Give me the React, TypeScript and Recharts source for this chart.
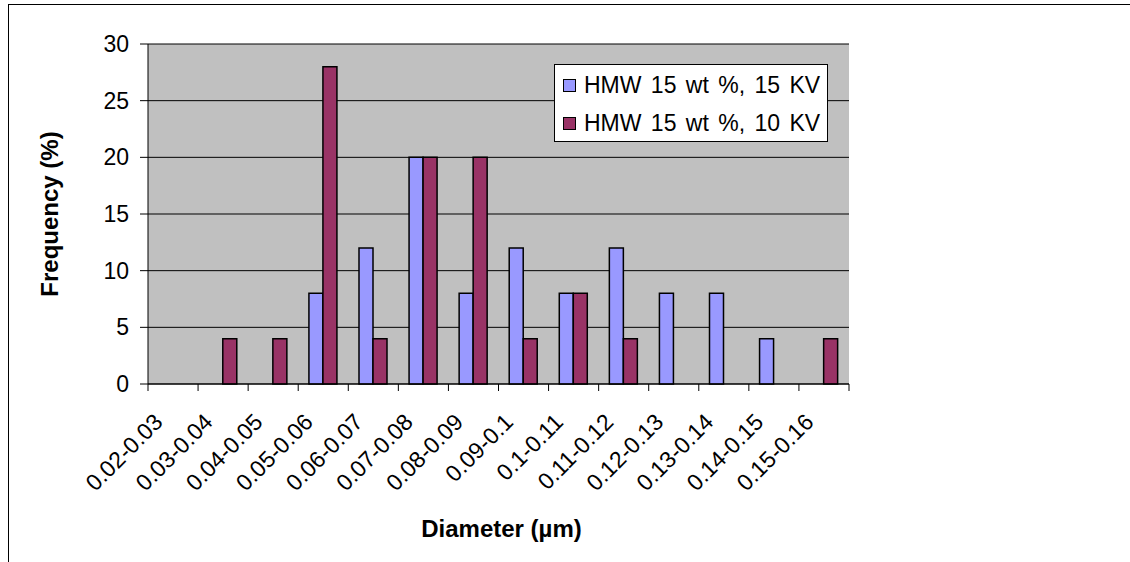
import React from "react";
import { BarChart, Bar, XAxis, YAxis, CartesianGrid, Legend, Label } from "recharts";

const FONT = '"Liberation Sans", Arial, sans-serif';

const diameterBins = [
  "0.02-0.03", "0.03-0.04", "0.04-0.05", "0.05-0.06", "0.06-0.07", "0.07-0.08", "0.08-0.09",
  "0.09-0.1", "0.1-0.11", "0.11-0.12", "0.12-0.13", "0.13-0.14", "0.14-0.15", "0.15-0.16",
];
const freq15kv = [0, 0, 0, 8, 12, 20, 8, 12, 8, 12, 8, 8, 4, 0];
const freq10kv = [0, 4, 4, 28, 4, 20, 20, 4, 8, 4, 0, 0, 0, 4];
const yTicks = [0, 5, 10, 15, 20, 25, 30];

const series = [
  { key: "kv15", name: "HMW 15 wt %, 15 KV", color: "#9999FF" },
  { key: "kv10", name: "HMW 15 wt %, 10 KV", color: "#993366" },
];

const data = diameterBins.map((bin, i) => ({ bin, kv15: freq15kv[i], kv10: freq10kv[i] }));

// Excel-style category ticks: tick marks sit between the bars, labels at 45°
function DiameterTick(props: any) {
  const { x, y, payload, index } = props;
  const half = payload?.offset ?? 0;
  const last = index === diameterBins.length - 1;
  const tx = x - 9;
  const ty = y + 39.5;
  return (
    <g>
      <line x1={x - half} y1={y} x2={x - half} y2={y + 7} stroke="#000" />
      {last && <line x1={x + half} y1={y} x2={x + half} y2={y + 7} stroke="#000" />}
      <text
        x={tx}
        y={ty}
        transform={`rotate(-45, ${tx}, ${ty})`}
        textAnchor="end"
        fontSize={23}
        fontFamily={FONT}
        fill="#000"
      >
        {payload.value}
      </text>
    </g>
  );
}

const renderLegend = () => (
  <div
    style={{
      width: 274,
      height: 78,
      boxSizing: "border-box",
      border: "1px solid #000",
      background: "#fff",
      paddingLeft: 8,
      paddingTop: 1,
      fontFamily: FONT,
      fontSize: 23,
      color: "#000",
    }}
  >
    {series.map((s) => (
      <div key={s.key} style={{ display: "flex", alignItems: "center", height: 38, whiteSpace: "nowrap" }}>
        <span
          style={{
            display: "inline-block",
            width: 11,
            height: 11,
            background: s.color,
            border: "1px solid #000",
            marginRight: 8,
          }}
        />
        <span style={{ wordSpacing: 3 }}>{s.name}</span>
      </div>
    ))}
  </div>
);

export default function App() {
  return (
    <div style={{ position: "absolute", left: 0, top: 0, width: 1130, height: 562, background: "#fff" }}>
      <div
        style={{
          position: "absolute",
          left: 8,
          top: 4,
          right: 0,
          bottom: 0,
          borderTop: "1px solid #000",
          borderLeft: "1px solid #000",
        }}
      />
      <div style={{ position: "absolute", left: 0, top: 0 }}>
        <BarChart
          width={1130}
          height={562}
          data={data}
          margin={{ top: 44, right: 281, bottom: 0, left: 0 }}
          barCategoryGap="21.4%"
          barGap={0}
        >
          <CartesianGrid vertical={false} stroke="#000" fill="#C0C0C0" fillOpacity={1} />
          <XAxis
            dataKey="bin"
            height={178}
            interval={0}
            tickSize={0}
            tickMargin={0}
            tickLine={false}
            axisLine={{ stroke: "#000" }}
            tick={<DiameterTick />}
          >
            <Label
              value="Diameter (µm)"
              position="insideBottom"
              offset={25}
              dx={3}
              style={{ fontFamily: FONT, fontSize: 24, fontWeight: "bold", fill: "#000" }}
            />
          </XAxis>
          <XAxis
            xAxisId="top"
            orientation="top"
            height={0}
            tick={false}
            tickLine={false}
            axisLine={{ stroke: "#808080" }}
          />
          <YAxis
            width={148}
            domain={[0, 30]}
            ticks={yTicks}
            tickSize={8}
            tickMargin={11}
            axisLine={{ stroke: "#000" }}
            tickLine={{ stroke: "#000" }}
            tick={{ fontFamily: FONT, fontSize: 23, fill: "#000" }}
          >
            <Label
              content={({ viewBox }: any) => {
                const cx = viewBox.x + 49;
                const cy = viewBox.y + viewBox.height / 2;
                return (
                  <text
                    x={cx}
                    y={cy}
                    transform={`rotate(-90, ${cx}, ${cy})`}
                    textAnchor="middle"
                    dominantBaseline="central"
                    fontFamily={FONT}
                    fontSize={24}
                    fontWeight="bold"
                    fill="#000"
                  >
                    Frequency (%)
                  </text>
                );
              }}
            />
          </YAxis>
          <YAxis
            yAxisId="right"
            orientation="right"
            width={0}
            tick={false}
            tickLine={false}
            axisLine={{ stroke: "#808080" }}
          />
          <Legend
            layout="vertical"
            align="center"
            verticalAlign="middle"
            content={renderLegend}
            wrapperStyle={{ left: 554, top: 64, width: 274, height: 78 }}
          />
          {series.map((s) => (
            <Bar
              key={s.key}
              dataKey={s.key}
              name={s.name}
              fill={s.color}
              stroke="#000"
              strokeWidth={1.5}
              isAnimationActive={false}
            />
          ))}
        </BarChart>
      </div>
    </div>
  );
}
